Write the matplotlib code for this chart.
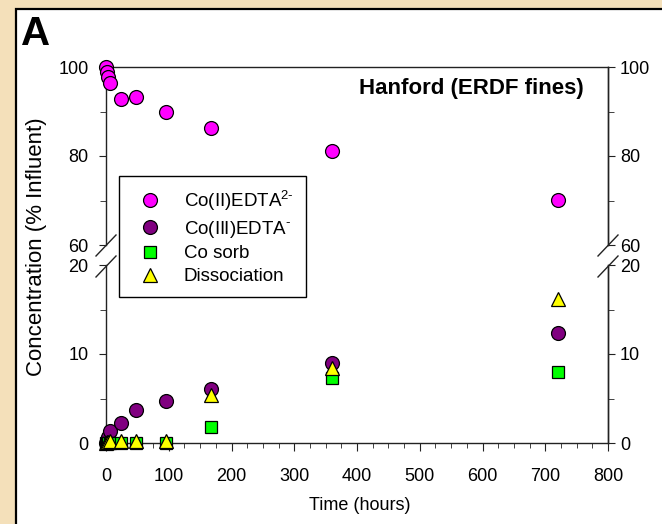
import matplotlib
matplotlib.use("Agg")
import matplotlib.pyplot as plt
from matplotlib.patches import Rectangle
from matplotlib.lines import Line2D
from matplotlib.ticker import MultipleLocator, FixedLocator

plt.rcParams['font.family'] = ['Liberation Sans', 'DejaVu Sans']
plt.rcParams['mathtext.fontset'] = 'custom'
plt.rcParams['mathtext.rm'] = 'Liberation Sans'

# ---- data ----
time_h = [0, 1, 3, 6, 24, 48, 96, 168, 360, 720]
co2_edta = [99.9, 98.9, 97.8, 96.3, 92.9, 93.2, 89.8, 86.4, 81.1, 70.1]
co3_edta = [0.0, 0.3, 0.7, 1.3, 2.3, 3.7, 4.7, 6.1, 9.0, 12.4]
co_sorb = [0.0, 0.0, 0.0, 0.05, 0.05, 0.05, 0.05, 1.85, 7.3, 8.0]
dissociation = [0.0, 0.1, 0.1, 0.2, 0.2, 0.2, 0.2, 5.4, 8.4, 16.2]

labels = [r'Co(II)EDTA$^{\mathregular{2\text{-}}}$', r'Co(III)EDTA$^{\mathregular{\text{-}}}$',
          'Co sorb', 'Dissociation']
xticks = [0, 100, 200, 300, 400, 500, 600, 700, 800]
yticks_top = [60, 80, 100]
yminor_top = [70, 90]
yticks_bot = [0, 10, 20]
yminor_bot = [5, 15]

W, H = 662, 524
fig = plt.figure(figsize=(W / 100, H / 100), dpi=100, facecolor='#F4E0BA')

def fx(px):
    return px / W

def fy(py):
    return 1 - py / H

# white panel
fig.patches.append(Rectangle((fx(16), fy(560)), fx(700) - fx(16), fy(9) - fy(560),
                             transform=fig.transFigure, facecolor='white',
                             edgecolor='black', linewidth=1.6, zorder=-5))

left, right = 106, 608
ax_top = fig.add_axes([fx(left), fy(245), fx(right) - fx(left), fy(67) - fy(245)])
ax_bot = fig.add_axes([fx(left), fy(443), fx(right) - fx(left), fy(265) - fy(443)])

def style_y(ax, major, minor, side_pad):
    ax.yaxis.set_major_locator(FixedLocator(major))
    ax.yaxis.set_minor_locator(FixedLocator(minor))
    ax.tick_params(axis='y', which='both', direction='out', labelsize=13,
                   pad=side_pad, color='#222222')
    ax.tick_params(axis='y', which='major', length=5)
    ax.tick_params(axis='y', which='minor', length=4)

for ax in (ax_top, ax_bot):
    ax.set_zorder(2)
    ax.set_facecolor('none')
    ax.set_xlim(0, 800)
    for s in ax.spines.values():
        s.set_linewidth(1.0)
        s.set_color('#222222')
    ax.tick_params(axis='y', which='both', right=False, labelright=False)

ax_top.set_ylim(60, 100)
style_y(ax_top, yticks_top, yminor_top, 7.5)
ax_top.spines['bottom'].set_visible(False)
ax_top.tick_params(axis='x', which='both', bottom=False, top=False, labelbottom=False)

ax_bot.set_ylim(0, 20)
style_y(ax_bot, yticks_bot, yminor_bot, 7.5)
ax_bot.spines['top'].set_visible(False)
ax_bot.set_xticks(xticks)
ax_bot.xaxis.set_minor_locator(MultipleLocator(25))
ax_bot.tick_params(axis='x', which='both', direction='out', labelsize=13, pad=12, color='#222222')
ax_bot.tick_params(axis='x', which='major', length=6)
ax_bot.tick_params(axis='x', which='minor', length=3.5)

# right-hand axes (same scale, tighter label spacing)
for ax, mj, mn in ((ax_top, yticks_top, yminor_top), (ax_bot, yticks_bot, yminor_bot)):
    sec = ax.secondary_yaxis('right')
    style_y(sec, mj, mn, 3.5)
    sec.spines['right'].set_linewidth(1.0)
    sec.spines['right'].set_color('#222222')

mk = dict(linestyle='none', markeredgecolor='black', markeredgewidth=0.9, clip_on=False)
h1, = ax_top.plot(time_h, co2_edta, marker='o', markersize=10, markerfacecolor='#FF00FF', zorder=5, **mk)
h2, = ax_bot.plot(time_h, co3_edta, marker='o', markersize=10, markerfacecolor='#800080', zorder=5, **mk)
h3, = ax_bot.plot(time_h, co_sorb, marker='s', markersize=8, markerfacecolor='#00FF00', zorder=6, **mk)
h4, = ax_bot.plot(time_h, dissociation, marker='^', markersize=9.5, markerfacecolor='#FFFF00', zorder=7, **mk)

# break marks
for x0 in (96, 598):
    for y0 in (256, 277):
        fig.lines.append(Line2D([fx(x0), fx(x0 + 20)], [fy(y0), fy(y0 - 21)],
                                transform=fig.transFigure, color='#222222', linewidth=1.0,
                                zorder=3))

leg = fig.legend([h1, h2, h3, h4], labels, loc='upper left',
                 bbox_to_anchor=(fx(119), fy(176)), borderaxespad=0, fontsize=13.5,
                 frameon=True, fancybox=False, edgecolor='black', framealpha=1,
                 labelspacing=0.3, handletextpad=0.8, borderpad=0.65, handlelength=2.0)
leg.get_frame().set_linewidth(1.0)
leg.set_zorder(20)

fig.text(fx(360), fy(506), 'Time (hours)', ha='center', va='center', fontsize=13)
fig.text(fx(37), fy(247), 'Concentration (% Influent)', ha='center', va='center',
         rotation=90, fontsize=16)
fig.text(fx(21), fy(34), 'A', ha='left', va='center', fontsize=29, fontweight='bold')
fig.text(fx(584), fy(88), 'Hanford (ERDF fines)', ha='right', va='center',
         fontsize=16, fontweight='bold')

fig.savefig('out.png', dpi=100, facecolor=fig.get_facecolor())
